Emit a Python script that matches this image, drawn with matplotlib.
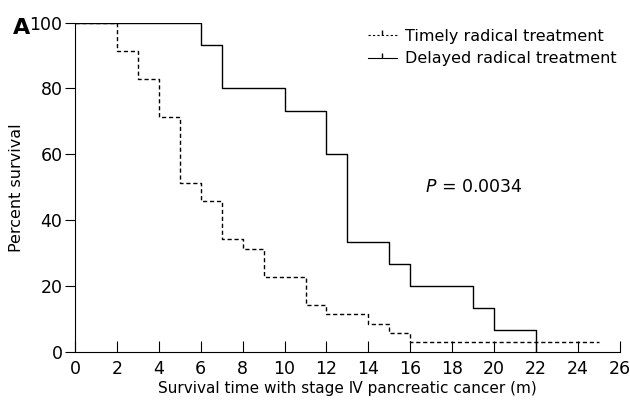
import numpy as np
import matplotlib
matplotlib.use("Agg")
import matplotlib.pyplot as plt
from matplotlib.lines import Line2D

plt.rcParams['font.family'] = ['DejaVu Sans', 'Noto Sans CJK SC']

# Kaplan-Meier step data (time in months, percent surviving)
timely_t = [0, 2, 3, 4, 5, 6, 7, 8, 9, 11, 12, 14, 15, 16, 25]
timely_s = [100, 91.4, 82.9, 71.4, 51.4, 45.7, 34.3, 31.4, 22.9, 14.3, 11.4, 8.6, 5.7, 2.9, 2.9]

delayed_t = [0, 6, 7, 10, 12, 13, 15, 16, 19, 20, 22, 22]
delayed_s = [100, 93.3, 80, 73.3, 60, 33.3, 26.7, 20, 13.3, 6.7, 0, 0]

xticks = list(range(0, 27, 2))
yticks = [0, 20, 40, 60, 80, 100]

fig = plt.figure(figsize=(6.3, 4.03), dpi=100)
ax = fig.add_axes([0.119, 0.1266, 0.865, 0.8174])

ax.step(timely_t, timely_s, where='post', color='black', lw=1.0,
        linestyle=(0, (3, 2)))
ax.step(delayed_t, delayed_s, where='post', color='black', lw=1.0)

ax.set_xlim(0, 26)
ax.set_ylim(0, 100)
ax.set_xticks(xticks)
ax.set_yticks(yticks)
ax.spines['top'].set_visible(False)
ax.spines['right'].set_visible(False)
ax.tick_params(axis='x', direction='in', length=8, labelsize=12.5, pad=6)
ax.tick_params(axis='y', direction='out', length=7, labelsize=12.5, pad=2)

ax.set_xlabel('Survival time with stage \u2163 pancreatic cancer (m)', fontsize=11, labelpad=2)
ax.set_ylabel('Percent survival', fontsize=11.5, labelpad=4)

ax.text(16.7, 50, r'$P$ = 0.0034', fontsize=12.5, va='center', ha='left')
fig.text(0.02, 0.93, 'A', fontsize=16, fontweight='bold', va='center', ha='left')

handles = [
    Line2D([0, 0.5, 1], [0, 0, 0], color='black', lw=0.8, linestyle=(0, (2, 2)),
           marker=2, markersize=3.5, markevery=[1]),
    Line2D([0, 0.5, 1], [0, 0, 0], color='black', lw=0.8, marker=2,
           markersize=3.5, markevery=[1]),
]
leg = ax.legend(handles, ['Timely radical treatment', 'Delayed radical treatment'],
                loc='upper right', bbox_to_anchor=(1.005, 1.0), frameon=False,
                fontsize=11.5, handlelength=1.8, handletextpad=0.5,
                labelspacing=0.45, borderaxespad=0)

fig.savefig('out.png', dpi=100)
